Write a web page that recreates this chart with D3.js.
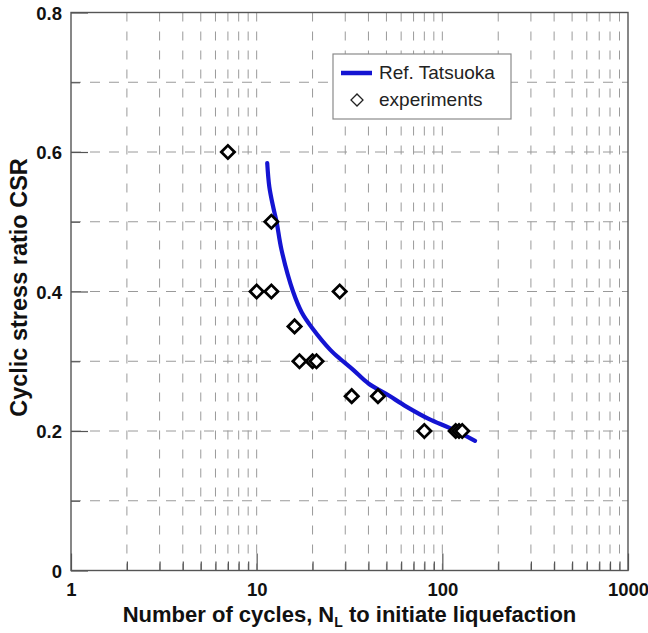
<!DOCTYPE html>
<html>
<head>
<meta charset="utf-8">
<script src="https://cdn.jsdelivr.net/npm/d3@7"></script>
<style>
  html, body { margin: 0; padding: 0; background: #fff; }
  svg { display: block; font-family: "Liberation Sans", Arial, sans-serif; }
</style>
</head>
<body>
<svg id="chart" width="648" height="633"></svg>
<script>
// Tatsuoka reference curve: number of cycles vs cyclic stress ratio
const curveN   = [11.4, 11.7, 12.3, 12.8, 13.6, 15.7, 17.5, 20, 25, 28, 33, 40, 50, 64, 85, 110, 150];
const curveCSR = [0.584, 0.55, 0.52, 0.50, 0.46, 0.40, 0.37, 0.347, 0.316, 0.304, 0.288, 0.268, 0.253, 0.235, 0.217, 0.204, 0.186];

// Test results
const expN   = [7, 12, 10, 12, 28, 16, 17, 20, 21, 32.5, 45, 80, 118, 123, 128];
const expCSR = [0.6, 0.5, 0.4, 0.4, 0.4, 0.35, 0.3, 0.3, 0.3, 0.25, 0.25, 0.2, 0.2, 0.2, 0.2];

// Axes
const xMajorTicks = [1, 10, 100, 1000];
const xTickLabels = ["1", "10", "100", "1000"];
const yMajorTicks = [0, 0.2, 0.4, 0.6, 0.8];
const yTickLabels = ["0", "0.2", "0.4", "0.6", "0.8"];
const yMinorTicks = [0.1, 0.3, 0.5, 0.7];

const legendLabels = ["Ref. Tatsuoka", "experiments"];

const W = 648, H = 633;
const m = { left: 71, top: 12.5, right: 20, bottom: 62.5 };
const iw = W - m.left - m.right, ih = H - m.top - m.bottom;

const svg = d3.select("#chart");
const g = svg.append("g").attr("transform", `translate(${m.left},${m.top})`);

const x = d3.scaleLog().domain([1, 1000]).range([0, iw]);
const y = d3.scaleLinear().domain([0, 0.8]).range([ih, 0]);

// all log ticks (1..9 per decade)
const xAll = [];
for (let d = 1; d < 1000; d *= 10) for (let k = 1; k <= 9; k++) xAll.push(d * k);
xAll.push(1000);
const xInner = xAll.filter(v => v > 1 && v < 1000);
const xMinor = xAll.filter(v => !xMajorTicks.includes(v));
const yInner = [...yMinorTicks, 0.2, 0.4, 0.6].sort((a, b) => a - b);

const gridColor = "#9a9a9a";
// dashed grid
g.append("g").selectAll("line").data(xInner).join("line")
  .attr("x1", d => x(d)).attr("x2", d => x(d))
  .attr("y1", 0).attr("y2", ih)
  .attr("stroke", gridColor).attr("stroke-width", 1)
  .attr("stroke-dasharray", "9,10");
g.append("g").selectAll("line").data(yInner).join("line")
  .attr("y1", d => y(d)).attr("y2", d => y(d))
  .attr("x1", 0).attr("x2", iw)
  .attr("stroke", gridColor).attr("stroke-width", 1)
  .attr("stroke-dasharray", "10,9");

// inward ticks via d3 axes
const axisColor = "#555";
const tickFont = "18.5px";
const xAxis = g.append("g").attr("transform", `translate(0,${ih})`)
  .call(d3.axisBottom(x).tickValues(xMinor).tickSize(-9).tickFormat(""));
const xAxisMaj = g.append("g").attr("transform", `translate(0,${ih})`)
  .call(d3.axisBottom(x).tickValues(xMajorTicks).tickSize(-17).tickPadding(12)
    .tickFormat((d, i) => xTickLabels[i]));
const yAxis = g.append("g")
  .call(d3.axisLeft(y).tickValues(yMinorTicks).tickSize(-9).tickFormat(""));
const yAxisMaj = g.append("g")
  .call(d3.axisLeft(y).tickValues(yMajorTicks).tickSize(-17).tickPadding(9)
    .tickFormat((d, i) => yTickLabels[i]));
[xAxis, xAxisMaj, yAxis, yAxisMaj].forEach(a => {
  a.select(".domain").remove();
  a.selectAll(".tick line").attr("stroke", axisColor).attr("stroke-width", 1.2);
  a.selectAll(".tick text").attr("fill", "#111")
    .style("font-size", tickFont).style("font-weight", "bold")
    .style("font-family", '"Liberation Sans", Arial, sans-serif');
});
yAxisMaj.selectAll(".tick text").attr("dy", "0.36em");

// frame
g.append("rect").attr("x", 0).attr("y", 0).attr("width", iw).attr("height", ih)
  .attr("fill", "none").attr("stroke", axisColor).attr("stroke-width", 1.4);

// reference curve
const line = d3.line().x(d => x(d[0])).y(d => y(d[1])).curve(d3.curveCatmullRom.alpha(0.5));
g.append("path").datum(curveN.map((n, i) => [n, curveCSR[i]]))
  .attr("d", line).attr("fill", "none")
  .attr("stroke", "#1414d2").attr("stroke-width", 4.2).attr("stroke-linecap", "round");

// experiment markers: squares turned 45°
const diamond = d3.symbol().type(d3.symbolSquare).size(88);
g.append("g").selectAll("path").data(expN.map((n, i) => [n, expCSR[i]])).join("path")
  .attr("d", diamond)
  .attr("transform", d => `translate(${x(d[0])},${y(d[1])}) rotate(45)`)
  .attr("fill", "#fff").attr("stroke", "#000").attr("stroke-width", 2.8);

// legend
const lg = svg.append("g");
lg.append("rect").attr("x", 333).attr("y", 54).attr("width", 178).attr("height", 65)
  .attr("fill", "#fff").attr("stroke", "#8a8a8a").attr("stroke-width", 1.2);
lg.append("line").attr("x1", 341).attr("x2", 372).attr("y1", 73).attr("y2", 73)
  .attr("stroke", "#1414d2").attr("stroke-width", 4.5);
lg.append("path").attr("d", d3.symbol().type(d3.symbolSquare).size(72)())
  .attr("transform", "translate(357,100) rotate(45)")
  .attr("fill", "#fff").attr("stroke", "#222").attr("stroke-width", 1.3);
lg.selectAll("text.lab").data(legendLabels).join("text").attr("class", "lab")
  .attr("x", 379).attr("y", (d, i) => 79 + i * 26.5)
  .attr("fill", "#222").style("font-size", "19px").text(d => d);

// axis titles
const xt = svg.append("text").attr("x", m.left + iw / 2).attr("y", 622)
  .attr("text-anchor", "middle").attr("fill", "#111")
  .style("font-size", "22px").style("font-weight", "bold");
xt.append("tspan").text("Number of cycles, N");
xt.append("tspan").attr("dy", 5).style("font-size", "14px").text("L");
xt.append("tspan").attr("dy", -5).text(" to initiate liquefaction");

svg.append("text")
  .attr("transform", `translate(27,${m.top + ih / 2 - 4}) rotate(-90)`)
  .attr("text-anchor", "middle").attr("fill", "#111")
  .style("font-size", "23.5px").style("font-weight", "bold")
  .text("Cyclic stress ratio CSR");
</script>
</body>
</html>
